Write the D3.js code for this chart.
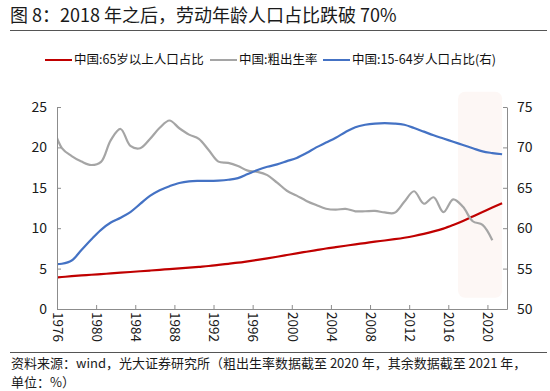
<!DOCTYPE html>
<html>
<head>
<meta charset="utf-8">
<script src="https://cdn.jsdelivr.net/npm/d3@7/dist/d3.min.js"></script>
<style>
  html, body { margin: 0; padding: 0; background: #fff; }
  svg { display: block; font-family: "Noto Sans CJK SC", "Noto Sans", sans-serif; }
</style>
</head>
<body>
<svg id="chart" width="550" height="391"></svg>
<script>
// years of the series (each value sits in the middle of its year)
const years = [1975, 1976, 1977, 1978, 1979, 1980, 1981, 1982, 1983, 1984,
  1985, 1986, 1987, 1988, 1989, 1990, 1991, 1992, 1993, 1994,
  1995, 1996, 1997, 1998, 1999, 2000, 2001, 2002, 2003, 2004,
  2005, 2006, 2007, 2008, 2009, 2010, 2011, 2012, 2013, 2014,
  2015, 2016, 2017, 2018, 2019, 2020, 2021];

// 中国:65岁以上人口占比 (%)
const aged65 = [3.86, 3.96, 4.06, 4.15, 4.24, 4.32, 4.40, 4.49, 4.58, 4.67,
  4.76, 4.85, 4.94, 5.03, 5.12, 5.22, 5.32, 5.45, 5.59, 5.73,
  5.90, 6.08, 6.27, 6.47, 6.68, 6.89, 7.09, 7.29, 7.49, 7.66,
  7.83, 8.00, 8.16, 8.33, 8.48, 8.64, 8.82, 9.04, 9.30, 9.60,
  9.95, 10.40, 10.90, 11.45, 12.00, 12.55, 13.08];

// 中国:粗出生率 (‰), ends in 2020
const birthRate = [23.01, 19.91, 18.93, 18.25, 17.82, 18.21, 20.91, 22.28, 20.19, 19.90,
  21.04, 22.43, 23.33, 22.37, 21.58, 21.06, 19.68, 18.24, 18.09, 17.70,
  17.12, 16.98, 16.57, 15.64, 14.64, 14.03, 13.38, 12.86, 12.41, 12.29,
  12.40, 12.09, 12.10, 12.14, 11.95, 11.90, 13.27, 14.57, 13.03, 13.83,
  11.99, 13.57, 12.64, 10.86, 10.41, 8.52];

// 中国:15-64岁人口占比 (%), right axis
const working = [55.55, 55.6, 56.0, 57.3, 58.6, 59.8, 60.7, 61.3, 62.0, 63.0,
  64.0, 64.7, 65.2, 65.6, 65.8, 65.85, 65.85, 65.9, 66.0, 66.2,
  66.7, 67.2, 67.6, 67.9, 68.3, 68.7, 69.3, 70.0, 70.6, 71.2,
  71.9, 72.5, 72.8, 72.95, 73.0, 72.95, 72.8, 72.4, 71.95, 71.5,
  71.1, 70.7, 70.3, 69.9, 69.5, 69.3, 69.15];

const xTicks = [1976, 1980, 1984, 1988, 1992, 1996, 2000, 2004, 2008, 2012, 2016, 2020];
const leftTicks = [0, 5, 10, 15, 20, 25];
const rightTicks = [50, 55, 60, 65, 70, 75];

const seriesInfo = [
  { name: '中国:65岁以上人口占比', values: aged65, color: '#c00000', axis: 'left' },
  { name: '中国:粗出生率', values: birthRate, color: '#a5a5a5', axis: 'left' },
  { name: '中国:15-64岁人口占比(右)', values: working, color: '#4472c4', axis: 'right' }
];

const title = '图 8：2018 年之后，劳动年龄人口占比跌破 70%';
const source1 = '资料来源：wind，光大证券研究所（粗出生率数据截至 2020 年，其余数据截至 2021 年，';
const source2 = '单位：%）';

const svg = d3.select('#chart');
const W = 550;
const plot = { left: 57, right: 507, top: 107, bottom: 309 };

const x = d3.scaleLinear().domain([1976, 2022]).range([plot.left, plot.right]);
const yL = d3.scaleLinear().domain([0, 25]).range([plot.bottom, plot.top]);
const yR = d3.scaleLinear().domain([50, 75]).range([plot.bottom, plot.top]);
const mid = 0.5; // values are plotted mid-year

// title + rule
svg.append('text')
  .attr('x', 10).attr('y', 22)
  .attr('font-size', 18).attr('fill', '#1a1a1a')
  .text(title);
svg.append('line')
  .attr('x1', 10).attr('x2', W - 3).attr('y1', 30.5).attr('y2', 30.5)
  .attr('stroke', '#555').attr('stroke-width', 1);

// highlight box over 2017-2021
svg.append('rect')
  .attr('x', x(2017)).attr('width', x(2021.5) - x(2017))
  .attr('y', yL(26.9)).attr('height', yL(1.4) - yL(26.9))
  .attr('rx', 7)
  .attr('fill', '#fdf7f5');

// legend
const legendX = [45, 210, 323];
const legend = svg.append('g');
seriesInfo.forEach((s, i) => {
  const g = legend.append('g').attr('transform', `translate(${legendX[i]},60)`);
  g.append('line').attr('x1', 0).attr('x2', 27).attr('stroke', s.color).attr('stroke-width', 2);
  g.append('text').attr('x', 29).attr('dy', '0.35em')
    .attr('font-size', 12.5).attr('fill', '#111').text(s.name);
});

// clip
svg.append('clipPath').attr('id', 'clip')
  .append('rect')
  .attr('x', plot.left).attr('y', plot.top - 20)
  .attr('width', plot.right - plot.left).attr('height', plot.bottom - plot.top + 20);

const lines = svg.append('g').attr('clip-path', 'url(#clip)');
seriesInfo.forEach(s => {
  const ys = s.axis === 'left' ? yL : yR;
  const line = d3.line()
    .x((d, i) => x(years[i] + mid))
    .y(d => ys(d))
    .curve(d3.curveCatmullRom.alpha(0.5));
  lines.append('path')
    .datum(s.values)
    .attr('d', line)
    .attr('fill', 'none')
    .attr('stroke', s.color)
    .attr('stroke-width', 2.2)
    .attr('stroke-linejoin', 'round');
});

// axes
const axisColor = '#8c8c8c';
function styleAxis(g) {
  g.select('.domain').attr('stroke', axisColor);
  g.selectAll('.tick line').attr('stroke', axisColor);
  g.selectAll('.tick text').attr('fill', '#1a1a1a').attr('font-family', '"Noto Sans CJK SC", "Noto Sans", sans-serif');
}

svg.append('g')
  .attr('transform', `translate(${plot.left},0)`)
  .call(d3.axisLeft(yL).tickValues(leftTicks).tickSize(-4).tickSizeOuter(0).tickPadding(10))
  .attr('font-size', 14)
  .call(styleAxis);

svg.append('g')
  .attr('transform', `translate(${plot.right},0)`)
  .call(d3.axisRight(yR).tickValues(rightTicks).tickSize(-4).tickSizeOuter(0).tickPadding(10))
  .attr('font-size', 14)
  .call(styleAxis);

const xAxis = svg.append('g')
  .attr('transform', `translate(0,${plot.bottom})`)
  .call(d3.axisBottom(x).tickValues(xTicks).tickFormat(d3.format('d')).tickSize(-4).tickSizeOuter(0))
  .attr('font-size', 13.5)
  .call(styleAxis);
xAxis.selectAll('.tick text')
  .attr('y', 0).attr('x', 3).attr('dy', '0.35em')
  .attr('transform', 'rotate(90)')
  .style('text-anchor', 'start');

// source
svg.append('line')
  .attr('x1', 10).attr('x2', W - 3).attr('y1', 352.5).attr('y2', 352.5)
  .attr('stroke', '#555').attr('stroke-width', 1);
svg.append('text').attr('x', 11).attr('y', 368)
  .attr('font-size', 13).attr('fill', '#1a1a1a').text(source1);
svg.append('text').attr('x', 11).attr('y', 387)
  .attr('font-size', 13).attr('fill', '#1a1a1a').text(source2);
</script>
</body>
</html>
